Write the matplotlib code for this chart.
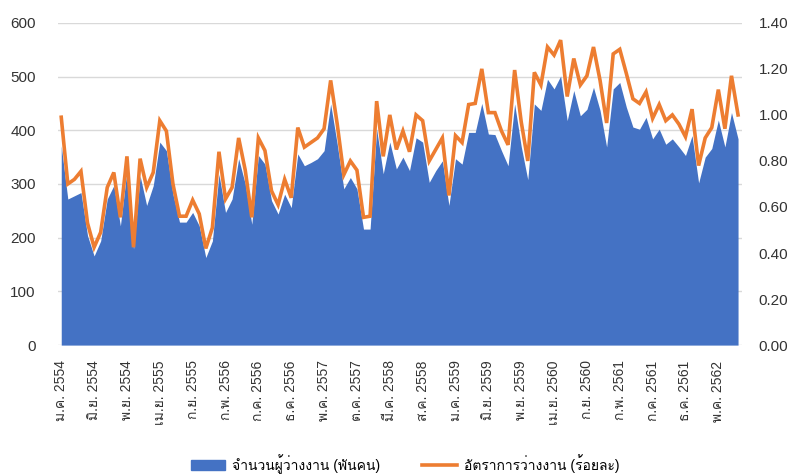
import matplotlib
matplotlib.use('Agg')
import matplotlib.pyplot as plt
from matplotlib import font_manager
from matplotlib.ft2font import FT2Font
from matplotlib.patches import Patch
from matplotlib.lines import Line2D

# monthly data, ม.ค. 2554 .. ส.ค. 2562
unemployed = [
    371, 272, 278, 284, 204, 166, 194, 272, 297, 222,
    325, 179, 315, 260, 297, 378, 362, 281, 229, 229,
    247, 222, 163, 194, 318, 247, 272, 347, 300, 225,
    353, 337, 269, 244, 281, 256, 356, 334, 340, 347,
    362, 449, 374, 291, 312, 291, 216, 216, 402, 319,
    378, 328, 350, 325, 386, 378, 303, 325, 343, 260,
    347, 337, 396, 396, 450, 393, 392, 362, 334, 449,
    370, 308, 449, 437, 495, 477, 501, 418, 474, 427,
    439, 480, 437, 369, 477, 489, 443, 406, 402, 424,
    384, 402, 374, 384, 369, 353, 390, 302, 350, 366,
    419, 369, 433, 384,
]
rate = [
    0.99, 0.70, 0.72, 0.755, 0.53, 0.425, 0.49, 0.685, 0.75, 0.555,
    0.82, 0.425, 0.81, 0.685, 0.75, 0.975, 0.93, 0.70, 0.56, 0.56,
    0.63, 0.57, 0.42, 0.51, 0.84, 0.635, 0.685, 0.90, 0.76, 0.555,
    0.90, 0.845, 0.67, 0.61, 0.72, 0.64, 0.945, 0.86, 0.88, 0.90,
    0.94, 1.15, 0.96, 0.74, 0.80, 0.76, 0.555, 0.56, 1.06, 0.82,
    1.00, 0.85, 0.93, 0.84, 1.00, 0.975, 0.80, 0.85, 0.90, 0.65,
    0.91, 0.88, 1.045, 1.05, 1.20, 1.01, 1.01, 0.93, 0.87, 1.195,
    0.97, 0.80, 1.185, 1.13, 1.295, 1.26, 1.325, 1.08, 1.245, 1.13,
    1.17, 1.295, 1.15, 0.965, 1.265, 1.285, 1.18, 1.07, 1.05, 1.10,
    0.985, 1.045, 0.975, 1.00, 0.96, 0.905, 1.025, 0.78, 0.90, 0.945,
    1.11, 0.94, 1.17, 1.00,
]
tick_labels = [
    'ม.ค. 2554', 'มิ.ย. 2554', 'พ.ย. 2554', 'เม.ย. 2555', 'ก.ย. 2555',
    'ก.พ. 2556', 'ก.ค. 2556', 'ธ.ค. 2556', 'พ.ค. 2557', 'ต.ค. 2557',
    'มี.ค. 2558', 'ส.ค. 2558', 'ม.ค. 2559', 'มิ.ย. 2559', 'พ.ย. 2559',
    'เม.ย. 2560', 'ก.ย. 2560', 'ก.พ. 2561', 'ก.ค. 2561', 'ธ.ค. 2561',
    'พ.ค. 2562',
]
label_count = 'จำนวนผู้ว่างงาน (พันคน)'
label_rate = 'อัตราการว่างงาน (ร้อยละ)'

BLUE = '#4472C4'
ORANGE = '#ED7D31'
TXT = '#333333'


def thai_font():
    # look for any installed font that has Thai glyphs
    for f in font_manager.fontManager.ttflist:
        try:
            if 0x0E08 in FT2Font(f.fname).get_charmap():
                return f.name
        except Exception:
            pass
    return 'DejaVu Sans'


plt.rcParams['font.family'] = ['Liberation Sans', thai_font(), 'DejaVu Sans']

x = list(range(len(unemployed)))

fig = plt.figure(figsize=(7.94, 4.76), dpi=100)
ax = fig.add_axes([0.073, 0.275, 0.8615, 0.677])
ax2 = ax.twinx()

ax.fill_between(x, unemployed, 0, color=BLUE, linewidth=0, zorder=2)
ax2.plot(x, rate, color=ORANGE, linewidth=2.6, solid_joinstyle='miter', zorder=3)

ax.set_ylim(0, 600)
ax.set_yticks(range(0, 601, 100))
ax2.set_ylim(0, 1.4)
ax2.set_yticks([i * 0.2 for i in range(8)])
ax2.set_yticklabels([f'{i * 0.2:.2f}' for i in range(8)])
ax.set_xlim(-0.5, 103.6)
ax.set_xticks(x[::5])
ax.set_xticklabels(tick_labels, rotation=90, va='top', ha='center')

ax.grid(axis='y', color='#d9d9d9', linewidth=1)
ax.set_axisbelow(True)
for a in (ax, ax2):
    for s in a.spines.values():
        s.set_visible(False)
    a.tick_params(length=0, colors=TXT, labelsize=11)
ax.tick_params(axis='y', pad=16)
ax2.tick_params(axis='y', pad=12)
ax.tick_params(axis='x', pad=11, labelsize=10)
ax.set_zorder(ax2.get_zorder() - 1)
ax2.patch.set_visible(False)

handles = [Patch(color=BLUE, label=label_count),
           Line2D([0], [0], color=ORANGE, linewidth=2.6, label=label_rate)]
fig.legend(handles=handles, loc='center', bbox_to_anchor=(0.51, 0.025),
           ncol=2, frameon=False, fontsize=10, handlelength=2.5,
           columnspacing=3, handletextpad=0.5)

fig.savefig('out.png', dpi=100)
